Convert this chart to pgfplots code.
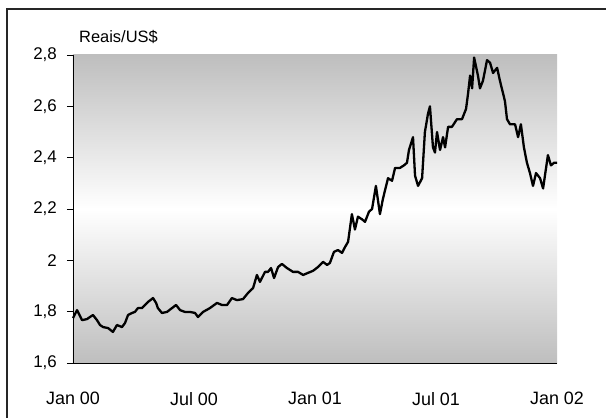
\documentclass[border=0pt]{standalone}
\usepackage{fontspec}
\setmainfont{Liberation Sans}
\usepackage{pgfplots}
\pgfplotsset{compat=1.18}
\definecolor{bggray}{RGB}{190,190,190}
\begin{document}
\begin{tikzpicture}
\useasboundingbox (-73bp,-55bp) rectangle (533bp,363bp);
\draw[line width=1.6bp, black!85] (-66bp,-56bp) -- (-66bp,353.7bp) -- (534bp,353.7bp);
\begin{axis}[
  at={(0,0)}, anchor=origin,
  scale only axis,
  width=484bp, height=308bp,
  xmin=0, xmax=24, ymin=1.6, ymax=2.8,
  axis lines*=left,
  axis line style={line width=0.9bp, black},
  axis background/.style={top color=bggray, bottom color=bggray, middle color=white},
  xtick={0,6,12,18,24},
  xticklabels={Jan 00, Jul 00, Jan 01, Jul 01, Jan 02},
  ytick={1.6,1.8,2.0,2.2,2.4,2.6,2.8},
  yticklabels={{1,6},{1,8},{2},{2,2},{2,4},{2,6},{2,8}},
  tick align=outside,
  major tick length=6bp,
  xtick style={draw=none},
  ytick style={line width=0.9bp, black},
  xticklabel style={font=\fontsize{18}{21}\selectfont, anchor=north, inner sep=0pt, yshift=-23bp},
  yticklabel style={font=\fontsize{17}{20}\selectfont, anchor=east, inner sep=0pt, xshift=-10bp},
  clip=false,
]
\addplot[black, line width=2.3bp, line join=round] coordinates {
(0.00,1.775) (0.20,1.806) (0.45,1.767) (0.69,1.771) (0.99,1.787) (1.19,1.767)
(1.34,1.748) (1.49,1.740) (1.74,1.736) (1.98,1.721) (2.18,1.748) (2.43,1.740)
(2.58,1.756) (2.73,1.787) (2.93,1.795) (3.07,1.799) (3.22,1.814) (3.42,1.814)
(3.57,1.826) (3.72,1.838) (3.97,1.853) (4.12,1.834) (4.21,1.814) (4.41,1.795)
(4.66,1.799) (4.91,1.814) (5.11,1.826) (5.31,1.806) (5.55,1.799) (5.80,1.799)
(6.05,1.795) (6.20,1.779) (6.45,1.799) (6.79,1.814) (7.14,1.834) (7.39,1.826)
(7.64,1.826) (7.88,1.853) (8.13,1.845) (8.43,1.849) (8.68,1.873) (8.93,1.892)
(9.12,1.943) (9.27,1.916) (9.52,1.955) (9.67,1.955) (9.82,1.970) (9.97,1.931)
(10.17,1.974) (10.36,1.986) (10.61,1.970) (10.91,1.955) (11.16,1.955) (11.41,1.943)
(11.65,1.951) (11.90,1.959) (12.15,1.974) (12.40,1.994) (12.60,1.982) (12.74,1.990)
(12.94,2.033) (13.14,2.040) (13.34,2.029) (13.49,2.052) (13.64,2.072) (13.83,2.18)
(13.98,2.12) (14.13,2.17) (14.33,2.16) (14.48,2.15) (14.68,2.19) (14.83,2.20)
(15.02,2.29) (15.22,2.18) (15.37,2.24) (15.62,2.32) (15.82,2.31) (15.97,2.36)
(16.21,2.36) (16.41,2.37) (16.56,2.38) (16.66,2.43) (16.86,2.48) (16.96,2.33)
(17.11,2.29) (17.31,2.32) (17.45,2.50) (17.60,2.57) (17.70,2.60) (17.85,2.44)
(17.95,2.42) (18.05,2.50) (18.20,2.43) (18.35,2.48) (18.45,2.44) (18.60,2.52)
(18.79,2.52) (19.04,2.55) (19.29,2.55) (19.49,2.59) (19.59,2.65) (19.69,2.72)
(19.79,2.67) (19.89,2.79) (20.08,2.72) (20.18,2.67) (20.33,2.70) (20.53,2.78)
(20.68,2.77) (20.83,2.73) (21.03,2.75) (21.17,2.70) (21.42,2.62) (21.52,2.55)
(21.67,2.53) (21.92,2.53) (22.07,2.48) (22.21,2.53) (22.36,2.44) (22.51,2.38)
(22.66,2.34) (22.81,2.29) (22.96,2.34) (23.16,2.32) (23.31,2.28) (23.55,2.41)
(23.70,2.37) (23.85,2.38) (24.00,2.38)
};
\node[anchor=base west, inner sep=0pt, font=\fontsize{16.5}{19}\selectfont] at (rel axis cs:0,1) [xshift=6bp, yshift=12bp] {Reais/US\$};
\end{axis}
\end{tikzpicture}
\end{document}
